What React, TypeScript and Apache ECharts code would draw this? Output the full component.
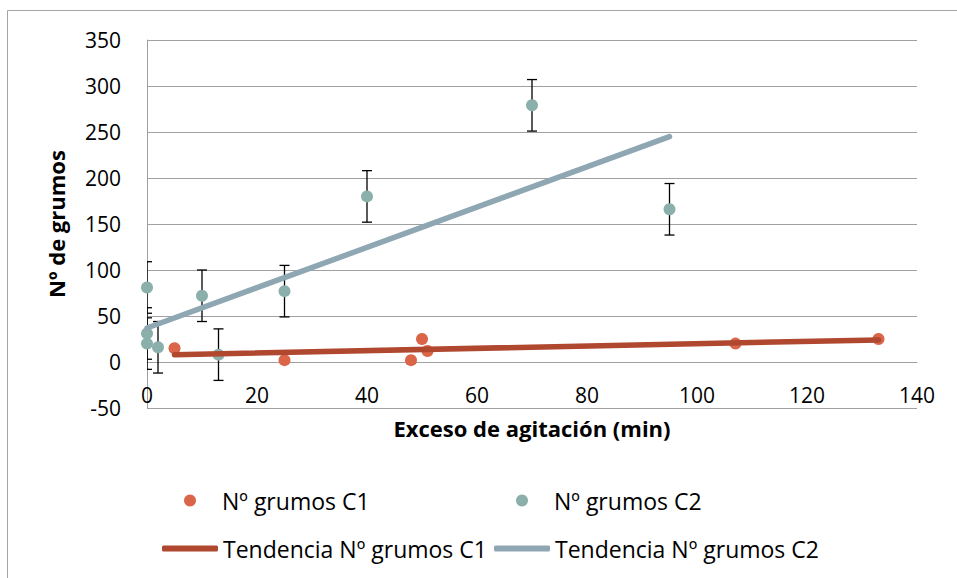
import React, { useEffect, useRef } from "react";
import * as echarts from "echarts";

const c1X = [5, 25, 48, 50, 51, 107, 133];
const c1Y = [15, 2, 2, 25, 12, 20, 25];
const c1Err = [2, 2, 2, 2, 2, 2, 2];

const c2X = [0, 0, 0, 2, 10, 13, 25, 40, 70, 95];
const c2Y = [81, 31, 20, 16, 72, 8, 77, 180, 279, 166];
const c2Err = [28, 28, 28, 28, 28, 28, 28, 28, 28, 28];

const trendC1X = [5, 133];
const trendC1Y = [8, 24];
const trendC2X = [0, 95];
const trendC2Y = [37, 245];

const xTicks = { min: 0, max: 140, interval: 20 };
const yTicks = { min: -50, max: 350, interval: 50 };

const C1_COLOR = "#DA6548";
const C2_COLOR = "#8BAFAB";
const T1_COLOR = "#B0472F";
const T2_COLOR = "#8EA7B3";
const FONT = "'Open Sans', 'Liberation Sans', sans-serif";

const GRID_TOP = 40;
const GRID_BOTTOM_PX = 408;

function errorBarRender(params: any, api: any) {
  const x = api.value(0);
  const y = api.value(1);
  const e = api.value(2);
  const top = api.coord([x, y + e]);
  const bot = api.coord([x, y - e]);
  const hw = 5;
  const style = { stroke: "#000", lineWidth: 1.3 };
  return {
    type: "group",
    children: [
      { type: "line", shape: { x1: top[0], y1: top[1], x2: bot[0], y2: bot[1] }, style },
      { type: "line", shape: { x1: top[0] - hw, y1: top[1], x2: top[0] + hw, y2: top[1] }, style },
      { type: "line", shape: { x1: bot[0] - hw, y1: bot[1], x2: bot[0] + hw, y2: bot[1] }, style },
    ],
  };
}

export default function App() {
  const ref = useRef<HTMLDivElement>(null);
  useEffect(() => {
    if (!ref.current) return;
    const chart = echarts.init(ref.current, null, { renderer: "svg" });
    const c1 = c1X.map((x, i) => [x, c1Y[i]]);
    const c2 = c2X.map((x, i) => [x, c2Y[i]]);
    const c1e = c1X.map((x, i) => [x, c1Y[i], c1Err[i]]);
    const c2e = c2X.map((x, i) => [x, c2Y[i], c2Err[i]]);
    const t1 = trendC1X.map((x, i) => [x, trendC1Y[i]]);
    const t2 = trendC2X.map((x, i) => [x, trendC2Y[i]]);

    // pixel offset of the zero line above the grid bottom
    const gridH = GRID_BOTTOM_PX - GRID_TOP;
    const zeroOffset = (gridH * (0 - yTicks.min)) / (yTicks.max - yTicks.min);

    const legendText = { fontFamily: FONT, fontSize: 23, color: "#000" };
    const dotLegend = {
      itemWidth: 12,
      itemHeight: 12,
      itemGap: 0,
      selectedMode: false,
      padding: 0,
      textStyle: { ...legendText, padding: [0, 0, 0, 21] },
    };
    const lineLegend = {
      itemWidth: 56,
      itemHeight: 6,
      itemGap: 0,
      selectedMode: false,
      padding: 0,
      textStyle: { ...legendText, padding: [0, 0, 0, 0] },
    };
    chart.setOption({
      animation: false,
      backgroundColor: "#fff",
      graphic: [
        {
          type: "rect",
          shape: { x: 7.5, y: 10.5, width: 1000, height: 1000 },
          style: { fill: "none", stroke: "#a6a6a6", lineWidth: 1 },
          silent: true,
        },
      ],
      grid: { left: 147, right: 40, top: GRID_TOP, bottom: 578 - GRID_BOTTOM_PX },
      xAxis: {
        type: "value",
        min: xTicks.min,
        max: xTicks.max,
        interval: xTicks.interval,
        offset: -zeroOffset,
        name: "Exceso de agitación (min)",
        nameLocation: "middle",
        nameGap: 55,
        nameTextStyle: { fontFamily: FONT, fontSize: 22, fontWeight: "bold", color: "#000" },
        axisLine: { show: true, onZero: false, lineStyle: { color: "#a0a0a0", width: 1 } },
        axisTick: { show: false },
        splitLine: { show: false },
        axisLabel: { fontFamily: FONT, fontSize: 21, color: "#000", margin: 22 },
      },
      yAxis: {
        type: "value",
        min: yTicks.min,
        max: yTicks.max,
        interval: yTicks.interval,
        name: "Nº de grumos",
        nameLocation: "middle",
        nameGap: 80,
        nameTextStyle: { fontFamily: FONT, fontSize: 22, fontWeight: "bold", color: "#000" },
        axisLine: { show: true, lineStyle: { color: "#a0a0a0", width: 1 } },
        axisTick: { show: false },
        splitLine: { show: true, lineStyle: { color: "#a0a0a0", width: 1 } },
        axisLabel: { fontFamily: FONT, fontSize: 21, color: "#000", margin: 26 },
      },
      legend: [
        { ...dotLegend, data: [{ name: "Nº grumos C1", icon: "circle" }], left: 184, top: 489 },
        { ...dotLegend, data: [{ name: "Nº grumos C2", icon: "circle" }], left: 516, top: 489 },
        { ...lineLegend, data: [{ name: "Tendencia Nº grumos C1", icon: "roundRect" }], left: 162, top: 537 },
        { ...lineLegend, data: [{ name: "Tendencia Nº grumos C2", icon: "roundRect" }], left: 494, top: 537 },
      ],
      series: [
        {
          name: "err C1",
          type: "custom",
          renderItem: errorBarRender,
          data: c1e,
          clip: true,
          z: 1,
          silent: true,
          encode: { x: 0, y: 1 },
        },
        {
          name: "err C2",
          type: "custom",
          renderItem: errorBarRender,
          data: c2e,
          clip: true,
          z: 1,
          silent: true,
          encode: { x: 0, y: 1 },
        },
        {
          name: "Nº grumos C1",
          type: "scatter",
          data: c1,
          symbol: "circle",
          symbolSize: 12,
          itemStyle: { color: C1_COLOR, opacity: 1 },
          z: 2,
        },
        {
          name: "Nº grumos C2",
          type: "scatter",
          data: c2,
          symbol: "circle",
          symbolSize: 12,
          itemStyle: { color: C2_COLOR, opacity: 1 },
          z: 2,
        },
        {
          name: "Tendencia Nº grumos C1",
          type: "line",
          data: t1,
          showSymbol: false,
          symbol: "none",
          itemStyle: { color: T1_COLOR },
          lineStyle: { color: T1_COLOR, width: 5.5, cap: "round" },
          z: 3,
        },
        {
          name: "Tendencia Nº grumos C2",
          type: "line",
          data: t2,
          showSymbol: false,
          symbol: "none",
          itemStyle: { color: T2_COLOR },
          lineStyle: { color: T2_COLOR, width: 5.5, cap: "round" },
          z: 3,
        },
      ],
    });
    return () => chart.dispose();
  }, []);
  return (
    <div
      ref={ref}
      style={{ position: "fixed", left: 0, top: 0, width: 957, height: 578 }}
    />
  );
}
